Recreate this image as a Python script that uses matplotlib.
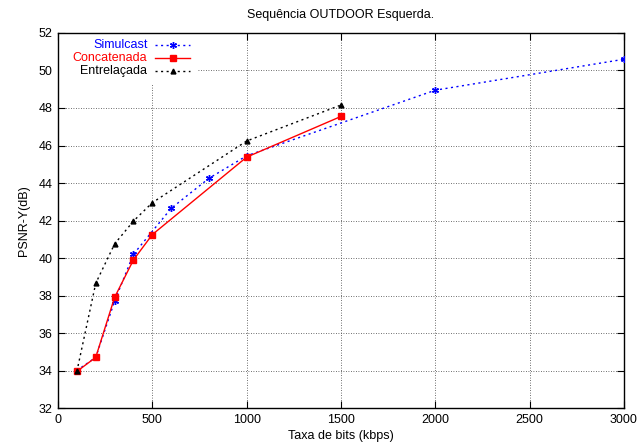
import matplotlib
matplotlib.use('Agg')
import matplotlib.pyplot as plt
from matplotlib.lines import Line2D
from matplotlib.patches import Rectangle

plt.rcParams['font.family'] = ['Liberation Sans', 'DejaVu Sans']

# rates (kbps) and PSNR-Y (dB)
sim_x = [100, 200, 300, 400, 600, 800, 1000, 2000, 3000]
sim_y = [34.0, 34.7, 37.7, 40.2, 42.65, 44.25, 45.45, 48.95, 50.6]

conc_x = [100, 200, 300, 400, 500, 1000, 1500]
conc_y = [33.95, 34.7, 37.9, 39.9, 41.25, 45.38, 47.55]

entr_x = [100, 200, 300, 400, 500, 1000, 1500]
entr_y = [33.95, 38.65, 40.75, 41.97, 42.95, 46.24, 48.16]

fig = plt.figure(figsize=(6.39, 4.48), dpi=100)
ax = fig.add_axes([58/639, 1 - 408/448, (624-58)/639, (408-33)/448])

ax.plot(sim_x, sim_y, color='blue', linestyle=(0, (1.5, 2.5)), linewidth=1,
        marker=(6, 2, 0), markersize=5, markeredgewidth=1, zorder=4)
ax.plot(conc_x, conc_y, color='red', linestyle='-', linewidth=1,
        marker='s', markersize=5, zorder=5)
ax.plot(entr_x, entr_y, color='black', linestyle=(0, (1.5, 2.5)), linewidth=1,
        marker='^', markersize=3.5, zorder=6)

ax.set_xlim(0, 3000)
ax.set_ylim(32, 52)
ax.set_xticks(range(0, 3001, 500))
ax.set_yticks(range(32, 53, 2))
ax.tick_params(direction='in', top=True, right=True, labelsize=9, length=5, pad=4)
ax.grid(True, color='0.25', linestyle=(0, (1, 2)), linewidth=0.6, zorder=1)
ax.set_axisbelow(True)
for s in ax.spines.values():
    s.set_linewidth(1)

ax.set_xlabel('Taxa de bits (kbps)', fontsize=9, labelpad=3)
ax.set_ylabel('PSNR-Y(dB)', fontsize=9, labelpad=6)
ax.set_title('Sequência OUTDOOR Esquerda.', fontsize=9, pad=11)

# gnuplot-style key: right-aligned coloured text, then the sample line
ax.add_patch(Rectangle((0.002, 0.86), 0.244, 0.138, transform=ax.transAxes,
                       facecolor='white', edgecolor='none', zorder=2))
keys = [('Simulcast', 'blue', (0, (1.5, 2.5)), (6, 2, 0), 5),
        ('Concatenada', 'red', '-', 's', 5),
        ('Entrelaçada', 'black', (0, (1.5, 2.5)), '^', 3.5)]
for i, (lab, col, ls, mk, ms) in enumerate(keys):
    yk = 0.968 - i * 0.0347
    ax.text(0.158, yk, lab, color=col, fontsize=9, ha='right', va='center',
            transform=ax.transAxes, zorder=7)
    ax.add_line(Line2D([0.172, 0.233], [yk, yk], color=col, linestyle=ls,
                       linewidth=1, transform=ax.transAxes, zorder=7))
    ax.add_line(Line2D([0.2025], [yk], color=col, marker=mk, markersize=ms,
                       markeredgewidth=1, transform=ax.transAxes, zorder=7))

fig.savefig('out.png', dpi=100)
